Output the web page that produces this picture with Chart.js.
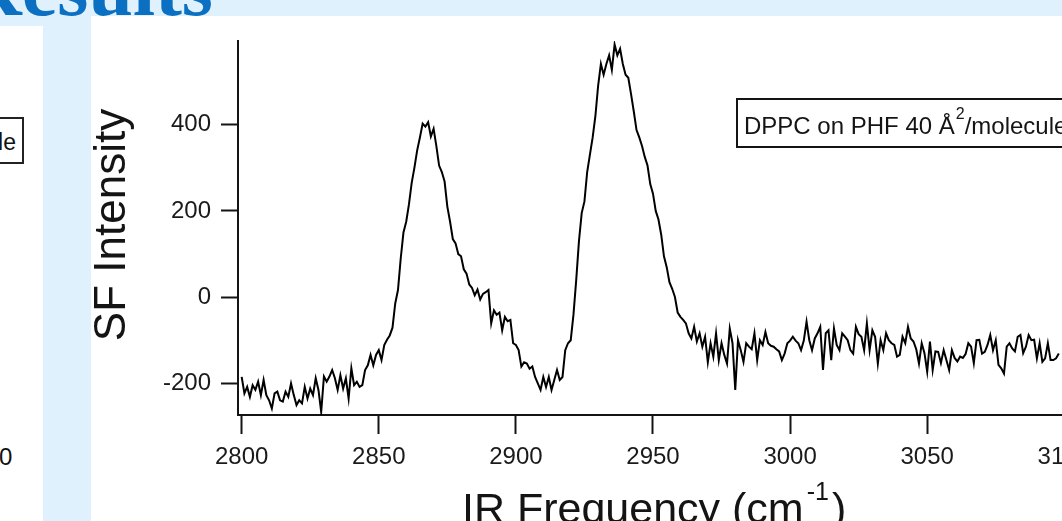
<!DOCTYPE html>
<html>
<head>
<meta charset="utf-8">
<title>SF spectrum</title>
<script src="https://cdn.jsdelivr.net/npm/chart.js@4"></script>
<style>
  html, body { margin: 0; padding: 0; }
  body { width: 1062px; height: 521px; overflow: hidden; position: relative; background: #dff1fc; font-family: "Liberation Sans", Arial, sans-serif; }
  .panel { position: absolute; background: #fff; }
  #slide-title { position: absolute; left: -36px; top: -52px; font: bold 80px/80px "Liberation Serif", "Times New Roman", serif; color: #0b70c2; white-space: nowrap; }
  #left-legend { position: absolute; box-sizing: border-box; left: -150px; width: 174px; top: 117px; height: 47px; border: 2px solid #222; padding: 3px 6px 0 0; text-align: right; font-size: 23px; line-height: 40px; color: #111; white-space: nowrap; }
  #left-tick { position: absolute; left: -1px; top: 445px; font-size: 24px; line-height: 24px; color: #111; }
  #chart { position: absolute; left: 0; top: 0; }
</style>
</head>
<body>
<div class="panel" style="left:0;top:26px;width:43px;height:495px;"></div>
<div class="panel" style="left:91px;top:16px;width:971px;height:505px;"></div>
<div id="slide-title">Results</div>
<div id="left-legend">molecule</div>
<div id="left-tick">0</div>
<canvas id="chart" width="1100" height="521"></canvas>

<script>
const fontFamily = '"Liberation Sans", Arial, Helvetica, sans-serif';

// sampling grid of the spectrum (cm-1)
const freqStart = 2800;
const freqStep = 1;

// SF intensity, one value per cm-1
const sfBaseline = [ // 2800-2855
  -184, -222, -207, -230, -203, -214, -195, -226, -191, -226,
  -238, -257, -222, -218, -238, -241, -218, -230, -199, -226,
  -249, -238, -245, -207, -234, -211, -226, -187, -214, -265,
  -183, -195, -183, -168, -187, -214, -180, -211, -187, -234,
  -164, -203, -195, -207, -203, -168, -157, -133, -157, -133,
  -122, -145, -110, -98, -88, -70
];
const sfPeakCH3s = [ // 2856-2910
  -14, 17, 90, 150, 175, 215, 265, 300, 340, 370,
  402, 395, 405, 372, 390, 350, 305, 290, 268, 210,
  175, 135, 125, 100, 95, 65, 55, 30, 22, 5,
  18, -5, 8, 12, 17, -60, -30, -40, -35, -76,
  -45, -55, -52, -106, -110, -122, -160, -150, -153, -165,
  -160, -184, -199, -214, -184
];
const sfPeakCH3a = [ // 2911-2966
  -207, -184, -214, -191, -168, -191, -184, -122, -106, -99,
  -40, 40, 130, 195, 222, 290, 330, 370, 420, 490,
  540, 515, 540, 560, 526, 585, 560, 575, 540, 515,
  508, 470, 430, 387, 370, 350, 325, 305, 262, 240,
  200, 180, 145, 95, 70, 35, 20, 1, -35, -45,
  -52, -60, -83, -95, -68, -102
];
const sfTailA = [ // 2967-3031
  -83, -114, -91, -150, -106, -137, -83, -145, -106, -133,
  -153, -72, -106, -214, -99, -122, -149, -106, -114, -120,
  -83, -145, -99, -110, -80, -106, -112, -114, -120, -125,
  -145, -130, -106, -100, -91, -100, -106, -122, -100, -56,
  -99, -122, -95, -83, -68, -168, -83, -76, -145, -72,
  -110, -122, -83, -91, -99, -122, -130, -68, -85, -91,
  -122, -60, -122, -76, -91
];
const sfTailB = [ // 3032-3098
  -153, -99, -122, -83, -99, -106, -110, -137, -133, -91,
  -106, -68, -95, -102, -120, -153, -106, -129, -172, -102,
  -168, -125, -126, -152, -122, -145, -168, -122, -140, -148,
  -137, -140, -131, -106, -114, -152, -99, -98, -130, -126,
  -110, -87, -122, -99, -156, -164, -176, -114, -106, -118,
  -125, -91, -87, -129, -114, -87, -99, -98, -141, -106,
  -149, -141, -106, -145, -145, -141, -130
];

const xTicks = [2800, 2850, 2900, 2950, 3000, 3050, 3100];
const yTicks = [-200, 0, 200, 400];

const yTitle = "SF Intensity";
const xTitleParts = ["IR Frequency (cm", "-1", ")"];
const legendParts = ["DPPC on PHF 40 \u00C5", "2", "/molecule"];

const sfIntensity = [].concat(sfBaseline, sfPeakCH3s, sfPeakCH3a, sfTailA, sfTailB);
const points = sfIntensity.map((v, i) => ({ x: freqStart + i * freqStep, y: v }));

// axis titles with superscripts and the boxed label
const annotate = {
  id: "annotate",
  afterDraw(chart) {
    const c = chart.ctx;
    c.save();
    c.fillStyle = "#141414";
    c.strokeStyle = "#141414";

    c.save();
    c.font = "44px " + fontFamily;
    c.translate(125, 225);
    c.rotate(-Math.PI / 2);
    c.textAlign = "center";
    c.textBaseline = "alphabetic";
    c.fillText(yTitle, 0, 0);
    c.restore();

    c.textAlign = "left";
    c.textBaseline = "alphabetic";
    let x = 462;
    c.font = "43px " + fontFamily;
    c.fillText(xTitleParts[0], x, 523);
    x += c.measureText(xTitleParts[0]).width + 3;
    c.font = "25px " + fontFamily;
    c.fillText(xTitleParts[1], x, 500);
    x += c.measureText(xTitleParts[1]).width + 3;
    c.font = "43px " + fontFamily;
    c.fillText(xTitleParts[2], x, 523);

    c.lineWidth = 2;
    c.strokeRect(737, 99, 400, 48);
    x = 744;
    c.font = "24px " + fontFamily;
    c.fillText(legendParts[0], x, 134);
    x += c.measureText(legendParts[0]).width + 1;
    c.font = "16px " + fontFamily;
    c.fillText(legendParts[1], x, 119);
    x += c.measureText(legendParts[1]).width;
    c.font = "24px " + fontFamily;
    c.fillText(legendParts[2], x, 134);
    c.restore();
  }
};

const ctx = document.getElementById("chart").getContext("2d");
new Chart(ctx, {
  type: "line",
  data: {
    datasets: [
      {
        data: points,
        borderColor: "#000",
        borderWidth: 2,
        pointRadius: 0,
        tension: 0,
        fill: false,
      },
    ],
  },
  options: {
    responsive: false,
    animation: false,
    devicePixelRatio: 1,
    layout: { padding: { left: 0, top: 41, right: 32.7, bottom: 0 } },
    plugins: {
      legend: { display: false },
      tooltip: { enabled: false },
    },
    scales: {
      x: {
        type: "linear",
        min: 2798.66,
        max: 3100,
        afterBuildTicks: s => { s.ticks = xTicks.map(v => ({ value: v })); },
        afterFit: s => { s.height = 106; },
        grid: { drawOnChartArea: false, tickLength: 19, tickWidth: 2, tickColor: "#141414" },
        border: { color: "#141414", width: 2 },
        ticks: {
          font: { size: 24, family: fontFamily },
          color: "#1a1a1a",
          padding: 9,
          maxRotation: 0,
          autoSkip: false,
          callback: v => String(v),
        },
      },
      y: {
        min: -272,
        max: 593,
        afterBuildTicks: s => { s.ticks = yTicks.map(v => ({ value: v })); },
        afterFit: s => { s.width = 238; },
        grid: { drawOnChartArea: false, tickLength: 17, tickWidth: 2, tickColor: "#141414" },
        border: { color: "#141414", width: 2 },
        ticks: {
          font: { size: 24, family: fontFamily },
          color: "#1a1a1a",
          padding: 10,
          callback: v => String(v),
        },
      },
    },
  },
  plugins: [annotate],
});
</script>
</body>
</html>
